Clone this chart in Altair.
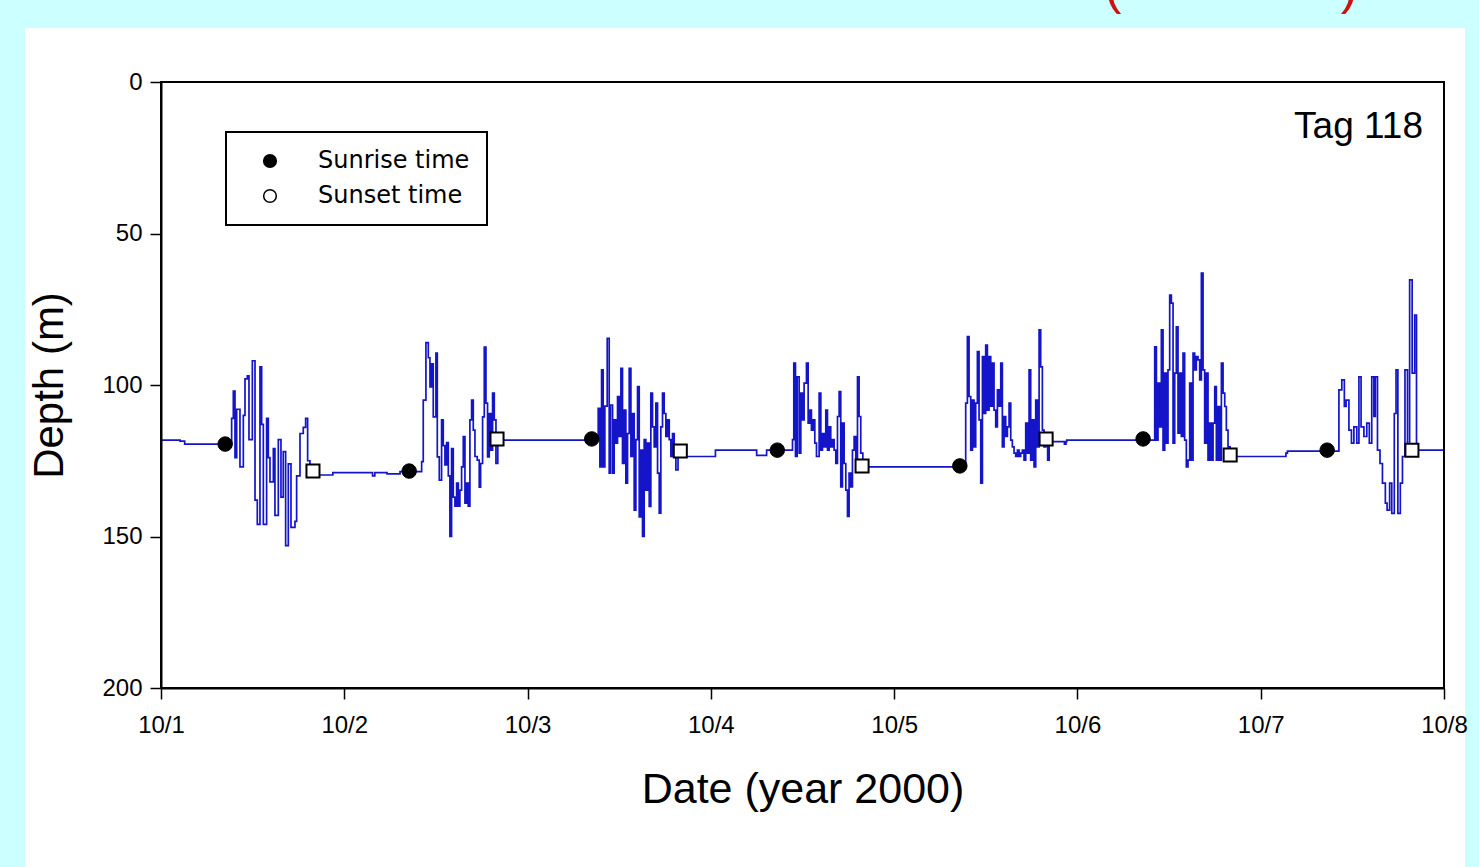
import altair as alt
import pandas as pd

# ---------------- data (hours since 10/1 00:00, depth in m) ----------------
day_ticks = [0, 24, 48, 72, 96, 120, 144, 168]
day_labels = ["10/1", "10/2", "10/3", "10/4", "10/5", "10/6", "10/7", "10/8"]
depth_ticks = [0, 50, 100, 150, 200]

quiet0 = [(0.0, 118.2), (2.5, 118.5), (3.1, 119.5), (9.0, 119.5)]
dive1 = [(9.25, 111), (9.47, 102), (9.69, 124), (9.91, 108), (10.34, 127), (10.78, 110),
         (11.0, 98), (11.3, 97), (11.52, 118), (11.96, 92), (12.31, 138), (12.61, 146),
         (12.96, 94), (13.18, 113), (13.4, 146), (13.83, 111), (14.05, 124), (14.27, 132),
         (14.71, 121), (14.92, 143), (15.36, 118), (15.71, 137), (16.01, 122), (16.32, 153),
         (16.67, 126), (17.02, 147), (17.54, 145), (17.76, 130), (18.2, 116), (18.63, 114),
         (18.94, 111), (19.2, 125), (19.5, 130)]
quiet1 = [(19.8, 129.7), (22.5, 128.9), (27.7, 130.0), (28.0, 128.9), (29.6, 129.3),
          (31.3, 128.6)]
dive2 = [(34.13, 125.3), (34.34, 105), (34.69, 86), (35.0, 91), (35.22, 100.6), (35.43, 93),
         (35.65, 110.5), (36.0, 89.5), (36.18, 123.7), (36.44, 131.4), (36.74, 111.5),
         (36.96, 120), (37.18, 126.4), (37.4, 119), (37.62, 130), (37.83, 150), (38.05, 121),
         (38.27, 137), (38.49, 140), (38.71, 132.4), (38.93, 140), (39.14, 134.7), (39.36, 127),
         (39.58, 117), (39.8, 139), (40.02, 132.4), (40.23, 140), (40.45, 111.5), (40.67, 105),
         (40.89, 114.9), (41.11, 123.6), (41.41, 124.8), (41.67, 133.7), (41.85, 125.9),
         (42.11, 110.5), (42.33, 87.5), (42.55, 106), (42.76, 123.7), (42.98, 109.4),
         (43.2, 121.5), (43.42, 102.7), (43.64, 111.5), (43.86, 125.9)]
quiet2 = [(44.1, 118.2), (50.0, 118.2), (57.0, 118.2)]
dive3 = [(57.25, 107.7), (57.47, 127), (57.69, 95), (57.9, 127), (58.12, 107), (58.43, 84.6),
         (58.69, 129.1), (58.86, 106.6), (59.13, 129.1), (59.34, 111.5), (59.56, 119.2),
         (59.78, 103.8), (60.0, 117), (60.22, 94.5), (60.43, 125.9), (60.65, 108.3),
         (60.87, 132.4), (61.09, 116), (61.31, 94.5), (61.53, 123.6), (61.74, 109.4),
         (61.96, 141.3), (62.18, 118), (62.4, 100.5), (62.62, 143.5), (62.83, 121.5),
         (63.05, 150), (63.27, 118), (63.49, 134.7), (63.71, 119.2), (63.93, 140.1),
         (64.14, 102.7), (64.36, 113.8), (64.58, 120.4), (64.8, 106), (65.02, 129.1),
         (65.24, 142.3), (65.45, 113.8), (65.67, 102.7), (65.89, 109.4), (66.11, 117),
         (66.33, 111.5), (66.55, 118), (66.76, 123.6), (66.98, 116), (67.2, 123.6),
         (67.42, 128), (67.7, 121.8)]
quiet3 = [(68.2, 123.6), (72.6, 121.5), (78.0, 123.2), (79.3, 121.5), (82.56, 121.5)]
dive4 = [(82.69, 118), (82.86, 92.8), (83.08, 123.6), (83.3, 97.3), (83.56, 122.5),
         (83.78, 102.7), (84.0, 111.5), (84.21, 99.4), (84.52, 92.8), (84.74, 112.6),
         (84.96, 108.3), (85.17, 114.9), (85.39, 111.5), (85.61, 119.2), (85.83, 123.6),
         (86.18, 102.7), (86.4, 121.5), (86.61, 116), (86.83, 120.4), (87.05, 108.3),
         (87.27, 121.5), (87.49, 113.8), (87.7, 120.4), (87.92, 118), (88.14, 121.5),
         (88.36, 125.9), (88.58, 110.4), (88.8, 102.2), (89.01, 133.6), (89.23, 112.6),
         (89.45, 125.9), (89.67, 134.7), (89.89, 143.4), (90.1, 129.1), (90.32, 133.6),
         (90.54, 121.5), (90.76, 117), (90.98, 124.8), (91.2, 97.3), (91.41, 110.4),
         (91.63, 122.5)]
quiet4 = [(91.9, 127.0), (104.0, 127.0), (105.24, 126.7)]
dive5 = [(105.37, 106), (105.59, 84), (105.81, 103.8), (106.03, 121.5), (106.25, 105),
         (106.46, 120.4), (106.68, 106), (106.9, 89), (107.12, 111.5), (107.34, 132.4),
         (107.56, 90.6), (107.77, 109.4), (107.99, 86.8), (108.21, 108.3), (108.43, 90.6),
         (108.65, 107), (108.87, 92.8), (109.08, 108.3), (109.3, 113.8), (109.52, 101.6),
         (109.74, 107), (109.96, 92.8), (110.17, 120.4), (110.39, 110.4), (110.61, 117),
         (110.83, 113.8), (111.05, 106), (111.27, 118.2), (111.48, 120.4), (111.7, 122.5),
         (111.92, 123.6), (112.14, 121.5), (112.36, 123.6), (112.57, 122.5), (112.79, 121.5),
         (113.01, 124.8), (113.23, 112.6), (113.45, 122.5), (113.67, 95), (113.88, 124.8),
         (114.1, 111.5), (114.32, 127), (114.54, 105), (114.76, 120.4), (114.98, 81.8),
         (115.19, 94), (115.41, 114.9), (115.63, 120.4), (115.85, 117.6), (116.1, 124.8)]
quiet5 = [(116.3, 118.7), (118.3, 119.5), (118.5, 118.7), (118.6, 118.2), (129.9, 118.2)]
dive6 = [(130.12, 87.4), (130.34, 118.2), (130.55, 99.4), (130.77, 113.8), (130.99, 81.8),
         (131.21, 121.5), (131.43, 96.1), (131.65, 119.2), (131.86, 95), (132.08, 70.3),
         (132.3, 73), (132.52, 119.2), (132.74, 96.1), (132.95, 80.8), (133.17, 115.9),
         (133.39, 96.1), (133.61, 117), (133.83, 89.5), (134.04, 118.2), (134.26, 127),
         (134.48, 124.8), (134.7, 99.4), (134.92, 124.8), (135.14, 89.5), (135.35, 95),
         (135.57, 90.6), (135.79, 91.7), (136.01, 98.3), (136.23, 63.1), (136.45, 95),
         (136.66, 119.2), (136.88, 96.1), (137.1, 124.8), (137.32, 112.6), (137.54, 124.8),
         (137.76, 112.6), (137.98, 100.5), (138.19, 124.8), (138.41, 107.1), (138.63, 124.8),
         (138.85, 92.8), (139.07, 102.7), (139.29, 107.1), (139.5, 114.9), (139.72, 120.4)]
quiet6 = [(140.0, 123.1), (140.2, 123.6), (147.0, 123.6), (147.3, 122.5), (147.5, 121.8),
          (154.1, 121.8)]
dive7 = [(154.24, 101.6), (154.62, 98.3), (154.95, 107.1), (155.18, 105), (155.55, 114.9),
         (155.88, 119.2), (156.2, 113.8), (156.58, 119.2), (156.86, 97.3), (157.14, 113.8),
         (157.51, 117), (157.89, 112.6), (158.22, 119.2), (158.54, 97.3), (158.82, 110.4),
         (159.01, 97.3), (159.29, 121.5), (159.62, 125.9), (159.94, 132.4), (160.32, 139),
         (160.55, 141.3), (160.88, 132.4), (161.16, 142.4), (161.49, 109.4), (161.72, 95),
         (161.96, 142.4), (162.28, 132.4), (162.56, 123.6), (162.89, 95), (163.22, 121.5),
         (163.5, 65.3), (163.83, 96.1), (164.16, 76.9), (164.4, 122.5)]
quiet7 = [(164.6, 121.5), (168.0, 121.8)]

sunrise_t = [8.4, 32.5, 56.4, 80.7, 104.6, 128.6, 152.7]
sunrise_d = [119.5, 128.4, 117.8, 121.5, 126.7, 117.8, 121.5]
sunset_t = [19.9, 44.0, 68.0, 91.8, 115.9, 140.0, 163.8]
sunset_d = [128.4, 117.8, 121.8, 126.7, 117.8, 123.1, 121.5]

# ---------------- tables ----------------
segments = [quiet0, dive1, quiet1, dive2, quiet2, dive3, quiet3, dive4, quiet4,
            dive5, quiet5, dive6, quiet6, dive7, quiet7]
pts = [p for seg in segments for p in seg]
line_df = pd.DataFrame(pts, columns=["hour", "depth"])

rise_df = pd.DataFrame({"hour": sunrise_t, "depth": sunrise_d, "event": "Sunrise time"})
set_df = pd.DataFrame({"hour": sunset_t, "depth": sunset_d, "event": "Sunset time"})
one = pd.DataFrame({"k": [1]})

W, H = 1283, 606
FONT = "Liberation Sans"

label_arr = "[" + ",".join("'%s'" % s for s in day_labels) + "]"
xscale = alt.Scale(domain=[0, 168], nice=False, zero=False)
yscale = alt.Scale(domain=[0, 200], reverse=True, nice=False, zero=False)

xaxis = alt.Axis(values=day_ticks, labelExpr=label_arr + "[round(datum.value/24)]",
                 title="Date (year 2000)", grid=False, zindex=1,
                 tickSize=11, tickWidth=1.5, tickColor="black",
                 domainColor="black", domainWidth=2,
                 labelFont=FONT, labelFontSize=24, labelColor="black", labelPadding=14,
                 labelFlush=False, labelOverlap=False,
                 titleFont=FONT, titleFontSize=43, titleFontWeight="normal",
                 titleColor="black", titlePadding=31)
yaxis = alt.Axis(values=depth_ticks, title="Depth (m)", grid=False, zindex=1,
                 tickSize=11, tickWidth=1.5, tickColor="black",
                 domainColor="black", domainWidth=2,
                 labelFont=FONT, labelFontSize=24, labelColor="black", labelPadding=8,
                 labelFlush=False, labelOverlap=False,
                 titleFont=FONT, titleFontSize=42, titleFontWeight="normal",
                 titleColor="black", titlePadding=30)

panel = alt.Chart(one).mark_rect(fill="white").encode(
    x=alt.value(-136), x2=alt.value(1304), y=alt.value(-54), y2=alt.value(800))

line = alt.Chart(line_df).mark_line(color="#1414c8", strokeWidth=1.7,
                                    interpolate="step-after").encode(
    x=alt.X("hour:Q", scale=xscale, axis=xaxis),
    y=alt.Y("depth:Q", scale=yscale, axis=yaxis))

fill_scale = alt.Scale(domain=["Sunrise time", "Sunset time"], range=["black", "white"])
legend = alt.Legend(title=None, orient="none", legendX=65, legendY=50,
                    strokeColor="black", fillColor="white", padding=17,
                    symbolType="circle", symbolSize=160, symbolStrokeColor="black",
                    symbolStrokeWidth=1.5, symbolOffset=15, labelOffset=36,
                    labelFont="DejaVu Sans", labelFontSize=24, labelColor="black",
                    rowPadding=11)

rise = alt.Chart(rise_df).mark_point(shape="circle", size=210, filled=True,
                                     stroke="black", strokeWidth=1, opacity=1).encode(
    x=alt.X("hour:Q", scale=xscale), y=alt.Y("depth:Q", scale=yscale),
    fill=alt.Fill("event:N", scale=fill_scale, legend=legend))

sset = alt.Chart(set_df).mark_point(shape="square", size=170, filled=True,
                                    stroke="black", strokeWidth=2, opacity=1).encode(
    x=alt.X("hour:Q", scale=xscale), y=alt.Y("depth:Q", scale=yscale),
    fill=alt.Fill("event:N", scale=fill_scale, legend=legend))

frame = alt.Chart(one).mark_rect(filled=False, stroke="black", strokeWidth=2).encode(
    x=alt.value(0), x2=alt.value(W), y=alt.value(0), y2=alt.value(H))

tag = alt.Chart(one).mark_text(text="Tag 118", font=FONT, fontSize=37, align="right",
                               baseline="alphabetic", color="black").encode(
    x=alt.value(1262), y=alt.value(56))

lpar = alt.Chart(one).mark_text(text="(", font=FONT, fontSize=50, align="center",
                                baseline="alphabetic", color="#cc1111").encode(
    x=alt.value(952), y=alt.value(-78))
rpar = alt.Chart(one).mark_text(text=")", font=FONT, fontSize=50, align="center",
                                baseline="alphabetic", color="#cc1111").encode(
    x=alt.value(1188), y=alt.value(-78))

chart = alt.layer(panel, line, rise, sset, frame, tag, lpar, rpar).properties(
    width=W, height=H, background="#ccffff",
    autosize=alt.AutoSizeParams(type="none"),
    padding={"left": 161, "top": 82, "right": 35, "bottom": 179}
).configure_view(strokeWidth=0).configure_legend(strokeWidth=2)

chart.save("out.html", embed_options={"renderer": "svg", "actions": False})
